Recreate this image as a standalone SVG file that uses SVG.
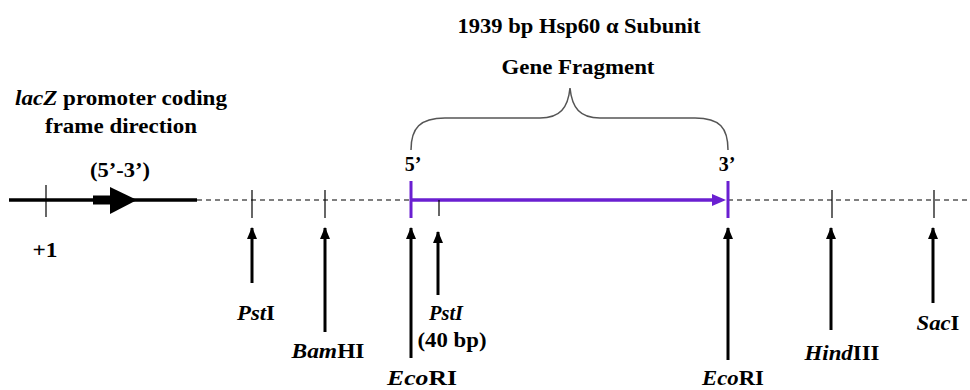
<svg xmlns="http://www.w3.org/2000/svg" width="970" height="390" viewBox="0 0 970 390">
  <defs>
    <style>
      text { font-family: "Liberation Serif", "Times New Roman", serif; font-weight: bold; font-size: 20px; fill: #000; }
      .it { font-style: italic; }
      .tick { stroke: #000; stroke-width: 1.2; }
      .site { stroke: #000; stroke-width: 3; fill: none; }
      .purple { stroke: #6a1fd1; fill: none; }
    </style>
    <marker id="up" viewBox="0 0 12 10" refX="11" refY="5" markerWidth="12" markerHeight="10" markerUnits="userSpaceOnUse" orient="auto">
      <path d="M0,0 L12,5 L0,10 Z" fill="#000"/>
    </marker>
  </defs>
  <rect width="970" height="390" fill="#fff"/>

  <!-- vector backbone -->
  <g id="backbone">
    <line x1="9" y1="200" x2="197" y2="200" stroke="#000" stroke-width="3.5"/>
    <line x1="197" y1="200" x2="970" y2="200" stroke="#000" stroke-width="1.2" stroke-dasharray="5,4"/>
    <line class="tick" x1="46" y1="185" x2="46" y2="217" stroke-width="1.5"/>
    <rect x="93" y="195.5" width="20" height="9" fill="#000"/>
    <path d="M110,187 L137,200 L110,214 Z" fill="#000"/>
  </g>

  <!-- promoter labels -->
  <g id="promoter">
    <text x="121" y="105" text-anchor="middle" textLength="212" lengthAdjust="spacingAndGlyphs"><tspan class="it">lacZ</tspan> promoter coding</text>
    <text x="121" y="133" text-anchor="middle" textLength="152" lengthAdjust="spacingAndGlyphs">frame direction</text>
    <text x="120" y="177" text-anchor="middle" textLength="60" lengthAdjust="spacingAndGlyphs">(5’-3’)</text>
    <text x="45" y="257" text-anchor="middle" textLength="25" lengthAdjust="spacingAndGlyphs">+1</text>
  </g>

  <!-- insert fragment -->
  <g id="insert">
    <text x="579" y="33" text-anchor="middle" textLength="243" lengthAdjust="spacingAndGlyphs">1939 bp Hsp60 α Subunit</text>
    <text x="578" y="74" text-anchor="middle" textLength="153" lengthAdjust="spacingAndGlyphs">Gene Fragment</text>
    <path d="M411,150 C411,128 420,118 445,118 L540,118 C560,118 568,108 570,88 C572,108 580,118 600,118 L695,118 C720,118 728,128 728,150" fill="none" stroke="#555" stroke-width="1.5"/>
    <text x="413" y="171" text-anchor="middle">5’</text>
    <text x="727" y="171" text-anchor="middle">3’</text>
    <line class="purple" x1="411" y1="200" x2="714" y2="200" stroke-width="3.5"/>
    <path d="M712,194 L726,200 L712,206 Z" fill="#6a1fd1"/>
    <line class="purple" x1="411" y1="181" x2="411" y2="218" stroke-width="3"/>
    <line class="purple" x1="728" y1="181" x2="728" y2="218" stroke-width="3"/>
    <line class="tick" x1="439" y1="200" x2="439" y2="216"/>
  </g>

  <!-- site ticks on backbone -->
  <g id="site-ticks">
    <line class="tick" x1="252" y1="190" x2="252" y2="218"/>
    <line class="tick" x1="325" y1="190" x2="325" y2="218"/>
    <line class="tick" x1="832" y1="190" x2="832" y2="218"/>
    <line class="tick" x1="934" y1="190" x2="934" y2="218"/>
  </g>

  <!-- restriction site pointers -->
  <g id="connectors">
    <line class="site" x1="252" y1="283" x2="252" y2="228" marker-end="url(#up)"/>
    <line class="site" x1="325" y1="332" x2="325" y2="228" marker-end="url(#up)"/>
    <line class="site" x1="411" y1="358" x2="411" y2="228" marker-end="url(#up)"/>
    <line class="site" x1="438" y1="295" x2="438" y2="232" stroke-width="2" marker-end="url(#up)"/>
    <line class="site" x1="728" y1="360" x2="728" y2="228" marker-end="url(#up)"/>
    <line class="site" x1="831" y1="330" x2="831" y2="228" marker-end="url(#up)"/>
    <line class="site" x1="933" y1="303" x2="933" y2="228" marker-end="url(#up)"/>
  </g>

  <g id="pst1"><text x="256" y="320" text-anchor="middle" textLength="38" lengthAdjust="spacingAndGlyphs"><tspan class="it">Pst</tspan>I</text></g>
  <g id="bamh1"><text x="328" y="358" text-anchor="middle" textLength="73" lengthAdjust="spacingAndGlyphs"><tspan class="it">Bam</tspan>HI</text></g>
  <g id="ecor1-left"><text x="422" y="385" text-anchor="middle" textLength="70" lengthAdjust="spacingAndGlyphs"><tspan class="it">Eco</tspan>RI</text></g>
  <g id="pst1-40bp">
    <text x="446" y="320" text-anchor="middle" class="it" textLength="34" lengthAdjust="spacingAndGlyphs">PstI</text>
    <text x="452" y="347" text-anchor="middle" textLength="69" lengthAdjust="spacingAndGlyphs">(40 bp)</text>
  </g>
  <g id="ecor1-right"><text x="733" y="385" text-anchor="middle" textLength="62" lengthAdjust="spacingAndGlyphs"><tspan class="it">Eco</tspan>RI</text></g>
  <g id="hind3"><text x="842" y="360" text-anchor="middle" textLength="75" lengthAdjust="spacingAndGlyphs"><tspan class="it">Hind</tspan>III</text></g>
  <g id="sac1"><text x="938" y="330" text-anchor="middle" textLength="43" lengthAdjust="spacingAndGlyphs"><tspan class="it">Sac</tspan>I</text></g>
</svg>
